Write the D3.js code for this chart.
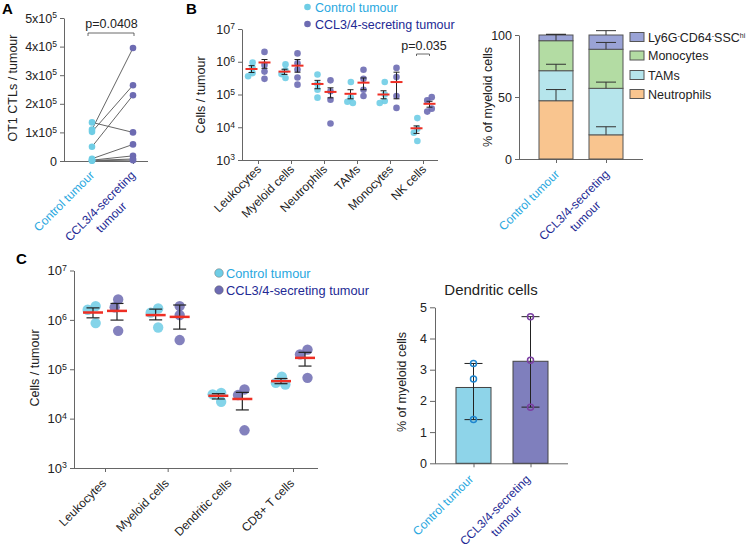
<!DOCTYPE html>
<html><head><meta charset="utf-8">
<script src="https://cdn.jsdelivr.net/npm/d3@7"></script>
<style>
body{margin:0;background:#fff;}
svg{display:block;font-family:"Liberation Sans",Arial,Helvetica,sans-serif;}
</style></head><body>
<svg id="c" width="751" height="550"></svg>
<script>
// ================= DATA =================
const groups = ["Control tumour", "CCL3/4-secreting tumour"];
const groupLines = [["Control tumour"], ["CCL3/4-secreting", "tumour"]];

// Panel A: paired OT1 CTL counts
const aControl = [1.35e5, 1.1e5, 1.02e5, 0.5e5, 0.08e5, 0.03e5, 0.02e5, 0.01e5];
const aCCL     = [1.0e5, 3.95e5, 2.65e5, 2.3e5, 0.58e5, 0.18e5, 0.07e5, 0.03e5];
const aTicks = [0, 1e5, 2e5, 3e5, 4e5, 5e5];
const aP = "p=0.0408";

// Panel B: cells / tumour
const bCats = ["Leukocytes", "Myeloid cells", "Neutrophils", "TAMs", "Monocytes", "NK cells"];
const bControlPts = [
  [9.5e5, 6.5e5, 4.5e5, 3.6e5],
  [8.3e5, 5.5e5, 4.2e5, 3.2e5],
  [4.1e5, 2.1e5, 1.4e5, 8.0e4],
  [2.4e5, 8.0e4, 6.0e4, 5.5e4],
  [2.4e5, 1.0e5, 6.3e4, 5.5e4],
  [1.9e4, 9.0e3, 6.8e3, 3.8e3]
];
const bCCLPts = [
  [2.0e6, 8.0e5, 5.0e5, 3.0e5],
  [1.8e6, 9.0e5, 5.8e5, 3.3e5, 2.0e5],
  [2.7e5, 1.26e5, 6.9e4, 1.3e4],
  [5.7e5, 3.0e5, 1.4e5, 9.0e4],
  [6.5e5, 3.4e5, 9.0e4, 3.9e4],
  [8.3e4, 6.6e4, 3.7e4, 3.0e4]
];
const bControlMean = [6.0e5, 5.0e5, 2.1e5, 1.05e5, 1.0e5, 9.3e3];
const bControlLo   = [4.7e5, 4.1e5, 1.5e5, 7.4e4, 7.4e4, 6.5e3];
const bControlHi   = [7.6e5, 5.9e5, 2.7e5, 1.4e5, 1.3e5, 1.1e4];
const bCCLMean     = [9.5e5, 7.6e5, 1.2e5, 2.3e5, 2.4e5, 5.2e4];
const bCCLLo       = [6.3e5, 4.8e5, 7.9e4, 1.4e5, 7.4e4, 4.1e4];
const bCCLHi       = [1.17e6, 1.17e6, 1.6e5, 3.2e5, 4.8e5, 6.2e4];
const bP = "p=0.035";
const bYTicks = [1e3, 1e4, 1e5, 1e6, 1e7];

// Panel B (right): % of myeloid cells, stacked
const stackKeys = ["Neutrophils", "TAMs", "Monocytes", "Ly6G"];
const stackControl = [47, 24.2, 24.2, 4.6];
const stackCCL     = [19.5, 37.5, 31.5, 11.5];
const stackControlErr = [9, 5.2, 5, 0.6];
const stackCCLErr     = [6.5, 5, 5.5, 3.5];
const stackTicks = [0, 50, 100];

// Panel C: cells / tumour
const cCats = ["Leukocytes", "Myeloid cells", "Dendritic cells", "CD8+ T cells"];
const cControlPts = [
  [1.9e6, 1.6e6, 8.6e5],
  [1.7e6, 1.4e6, 7.0e5],
  [3.3e4, 3.1e4, 2.2e4],
  [7.1e4, 5.3e4, 4.9e4]
];
const cCCLPts = [
  [2.6e6, 1.8e6, 6.0e5],
  [1.9e6, 1.25e6, 3.9e5],
  [3.9e4, 3.0e4, 5.8e3],
  [2.5e5, 2.0e5, 6.7e4]
];
const cControlMean = [1.41e6, 1.25e6, 2.9e4, 5.75e4];
const cControlLo   = [1.1e6, 1.0e6, 2.5e4, 5.1e4];
const cControlHi   = [1.75e6, 1.65e6, 3.2e4, 6.5e4];
const cCCLMean     = [1.52e6, 1.15e6, 2.5e4, 1.7e5];
const cCCLLo       = [9.9e5, 6.5e5, 1.5e4, 1.16e5];
const cCCLHi       = [2.15e6, 2.0e6, 3.4e4, 2.2e5];

// Panel C (right): dendritic cells % of myeloid cells
const dcControl = [3.2, 2.7, 1.4];
const dcCCL     = [4.7, 3.3, 1.8];
const dcMeans   = [2.43, 3.27];
const dcTicks   = [0, 1, 2, 3, 4, 5];

// ================= STYLE =================
const svg = d3.select("#c");
const axisColor = "#666";
const ctrlText = "#29a8e0", cclText = "#232a94";
const dotLight = "#6fcde5", dotDark = "#6d6bb2";
const red = "#ee2f24";
const stackColors = {Neutrophils: "#f9c58f", TAMs: "#b6e5ec", Monocytes: "#b3dca3", Ly6G: "#9aa3d6"};
const LBL = 12;

function styleAxis(g) {
  g.attr("font-family", null).attr("font-size", null);
  g.select(".domain").attr("stroke", axisColor);
  g.selectAll(".tick line").attr("stroke", axisColor);
  g.selectAll(".tick text").attr("fill", "#222").attr("font-size", 12.5);
}
function supLabels(g, baseFn, expFn) {
  g.selectAll(".tick text").each(function (d) {
    const t = d3.select(this).text(null);
    t.append("tspan").text(baseFn(d));
    const e = expFn(d);
    if (e !== null) t.append("tspan").attr("dy", "-0.5em").attr("font-size", "0.68em").text(e);
  });
}
function rotLabel(x, y, lines, color, size) {
  const fs = size || LBL;
  const t = svg.append("g").attr("transform", `translate(${x},${y}) rotate(-45)`);
  const first = t.append("text").attr("text-anchor", "end").attr("font-size", fs)
    .attr("fill", color).text(lines[0]);
  if (lines.length > 1) {
    const w = first.node().getComputedTextLength();
    t.append("text").attr("text-anchor", "middle").attr("x", -w / 2).attr("y", fs * 1.3)
      .attr("font-size", fs).attr("fill", color).text(lines[1]);
  }
}
function yLabel(cx, cy, text) {
  svg.append("text").attr("transform", `translate(${cx},${cy}) rotate(-90)`)
    .attr("text-anchor", "middle").attr("dy", "0.35em").attr("font-size", 12.5).attr("fill", "#222").text(text);
}
function panelTitle(x, y, t) {
  svg.append("text").attr("x", x).attr("y", y).attr("font-size", 15).attr("font-weight", "bold").text(t);
}
// deterministic beeswarm: greedy placement, then centred
function swarm(vals, yScale, minD) {
  const ord = vals.map((v, i) => ({v, i, y: yScale(v)})).sort((a, b) => a.y - b.y);
  const placed = [];
  ord.forEach(p => {
    let off = 0;
    for (let k = 0; k < 200; k++) {
      const cand = (k % 2 === 0 ? 1 : -1) * Math.ceil(k / 2) * 0.5;
      const ok = placed.every(q => Math.hypot(q.x - cand, q.y - p.y) >= minD);
      if (ok) { off = cand; break; }
    }
    placed.push({x: off, y: p.y, v: p.v});
  });
  const m = d3.mean(placed, d => d.x);
  return placed.map(d => ({x: d.x - m, y: d.y, v: d.v}));
}
function errBar(g, x, yLo, yHi, cap, sw) {
  g.append("line").attr("x1", x).attr("x2", x).attr("y1", yLo).attr("y2", yHi).attr("stroke", "#222").attr("stroke-width", sw);
  [yLo, yHi].forEach(yy => g.append("line").attr("x1", x - cap / 2).attr("x2", x + cap / 2)
    .attr("y1", yy).attr("y2", yy).attr("stroke", "#222").attr("stroke-width", sw));
}

// ================= PANEL A =================
panelTitle(2, 14, "A");
{
  const y = d3.scaleLinear().domain([0, 5e5]).range([161, 18]);
  const x = d3.scalePoint().domain(groups).range([92, 133]);
  const gy = svg.append("g").attr("transform", "translate(64,0)")
    .call(d3.axisLeft(y).tickValues(aTicks).tickSize(4).tickSizeOuter(0));
  styleAxis(gy);
  supLabels(gy, d => d === 0 ? "0" : (d / 1e5) + "x10", d => d === 0 ? null : "5");
  const gx = svg.append("g").attr("transform", "translate(0,161)")
    .call(d3.axisBottom(x).tickSize(3).tickSizeOuter(0).tickFormat(""));
  styleAxis(gx);
  gx.select(".domain").attr("d", "M64,0.5H148");
  aControl.forEach((v, i) => {
    svg.append("line").attr("x1", x(groups[0])).attr("x2", x(groups[1]))
      .attr("y1", y(v)).attr("y2", y(aCCL[i])).attr("stroke", "#666").attr("stroke-width", 1);
  });
  svg.selectAll(".aC").data(aControl).join("circle").attr("cx", x(groups[0])).attr("cy", d => y(d))
    .attr("r", 3.3).attr("fill", dotLight);
  svg.selectAll(".aT").data(aCCL).join("circle").attr("cx", x(groups[1])).attr("cy", d => y(d))
    .attr("r", 3.3).attr("fill", dotDark);
  svg.append("path").attr("d", `M${x(groups[0])-4},36V33H${x(groups[1])+1}V36`).attr("fill", "none")
    .attr("stroke", "#444").attr("stroke-width", 0.8);
  svg.append("text").attr("x", (x(groups[0]) + x(groups[1])) / 2 - 1).attr("y", 28).attr("text-anchor", "middle")
    .attr("font-size", 12.5).attr("fill", "#222").text(aP);
  yLabel(13, 88, "OT1 CTLs / tumour");
  rotLabel(x(groups[0]) + 3, 176, groupLines[0], ctrlText);
  rotLabel(x(groups[1]) + 3, 176, groupLines[1], cclText);
}

// ================= PANEL B scatter =================
panelTitle(186, 14, "B");
{
  const y = d3.scaleLog().domain([1e3, 1e7]).range([160, 29]);
  const x = d3.scalePoint().domain(bCats).range([258, 423]);
  const gy = svg.append("g").attr("transform", "translate(242,0)")
    .call(d3.axisLeft(y).tickValues(bYTicks).tickSize(4).tickSizeOuter(0));
  styleAxis(gy);
  supLabels(gy, () => "10", d => String(Math.round(Math.log10(d))));
  const gx = svg.append("g").attr("transform", "translate(0,160)")
    .call(d3.axisBottom(x).tickSize(4).tickSizeOuter(0).tickFormat(""));
  styleAxis(gx);
  gx.select(".domain").attr("d", "M242,0.5H438");
  const off = 6.5;
  const sets = [
    {pts: bControlPts, mean: bControlMean, lo: bControlLo, hi: bControlHi, dx: -off, col: dotLight},
    {pts: bCCLPts, mean: bCCLMean, lo: bCCLLo, hi: bCCLHi, dx: off, col: dotDark}
  ];
  sets.forEach(s => {
    bCats.forEach((c, i) => {
      const cx = x(c) + s.dx;
      const sw = swarm(s.pts[i], y, 5.2);
      svg.append("g").selectAll("circle").data(sw).join("circle")
        .attr("cx", d => cx + d.x).attr("cy", d => d.y).attr("r", 3.3)
        .attr("fill", s.col).attr("fill-opacity", 0.9);
    });
  });
  sets.forEach(s => {
    bCats.forEach((c, i) => {
      const cx = x(c) + s.dx;
      const g = svg.append("g");
      errBar(g, cx, y(s.lo[i]), y(s.hi[i]), 6, 1);
      g.append("line").attr("x1", cx - 6).attr("x2", cx + 6).attr("y1", y(s.mean[i])).attr("y2", y(s.mean[i]))
        .attr("stroke", red).attr("stroke-width", 2);
    });
  });
  const nk = x("NK cells");
  svg.append("path").attr("d", `M${nk-off},56V54H${nk+off}V56`).attr("fill", "none").attr("stroke", "#444").attr("stroke-width", 0.8);
  svg.append("text").attr("x", nk + 1).attr("y", 50).attr("text-anchor", "middle").attr("font-size", 12.5).attr("fill", "#222").text(bP);
  [[groups[0], dotLight, ctrlText, 7], [groups[1], dotDark, cclText, 24]].forEach(([t, c, tc, yy]) => {
    svg.append("circle").attr("cx", 307.5).attr("cy", yy).attr("r", 3.3).attr("fill", c);
    svg.append("text").attr("x", 315).attr("y", yy).attr("dy", "0.36em").attr("font-size", 12.5).attr("fill", tc).text(t);
  });
  yLabel(201, 95, "Cells / tumour");
  bCats.forEach(c => rotLabel(x(c) + 4, 170, [c], "#222"));
}

// ================= PANEL B stacked =================
{
  const y = d3.scaleLinear().domain([0, 100]).range([159, 35]);
  const x = d3.scalePoint().domain(groups).range([556, 606]);
  const bw = 34;
  const gy = svg.append("g").attr("transform", "translate(519,0)")
    .call(d3.axisLeft(y).tickValues(stackTicks).tickSize(4).tickSizeOuter(0));
  styleAxis(gy);
  const gx = svg.append("g").attr("transform", "translate(0,159)")
    .call(d3.axisBottom(x).tickSize(4).tickSizeOuter(0).tickFormat(""));
  styleAxis(gx);
  gx.select(".domain").attr("d", "M519,0.5H643");
  const rows = groups.map((gname, gi) => {
    const o = {group: gname};
    stackKeys.forEach((k, ki) => o[k] = (gi === 0 ? stackControl : stackCCL)[ki]);
    return o;
  });
  const series = d3.stack().keys(stackKeys)(rows);
  series.forEach((s, ki) => {
    svg.append("g").selectAll("rect").data(s).join("rect")
      .attr("x", d => x(d.data.group) - bw / 2).attr("width", bw)
      .attr("y", d => y(d[1])).attr("height", d => y(d[0]) - y(d[1]))
      .attr("fill", stackColors[stackKeys[ki]]).attr("stroke", "#555").attr("stroke-width", 1);
  });
  series.forEach((s, ki) => {
    s.forEach((d, gi) => {
      const e = (gi === 0 ? stackControlErr : stackCCLErr)[ki];
      const cx = x(d.data.group);
      svg.append("line").attr("x1", cx).attr("x2", cx).attr("y1", y(d[1])).attr("y2", y(d[1] + e)).attr("stroke", "#333").attr("stroke-width", 1);
      svg.append("line").attr("x1", cx - 10).attr("x2", cx + 10).attr("y1", y(d[1] + e)).attr("y2", y(d[1] + e)).attr("stroke", "#333").attr("stroke-width", 1);
    });
  });
  const legendY = {Ly6G: 37, Monocytes: 55.5, TAMs: 75, Neutrophils: 94};
  stackKeys.forEach(k => {
    svg.append("rect").attr("x", 630).attr("y", legendY[k] - 4.5).attr("width", 14).attr("height", 9)
      .attr("fill", stackColors[k]).attr("stroke", "#555").attr("stroke-width", 1);
    const t = svg.append("text").attr("x", 648).attr("y", legendY[k]).attr("dy", "0.36em").attr("font-size", 12.5).attr("fill", "#222");
    if (k === "Ly6G") {
      t.append("tspan").text("Ly6G");
      t.append("tspan").attr("dy", -4).attr("font-size", 7).text("-");
      t.append("tspan").attr("dy", 4).text("CD64");
      t.append("tspan").attr("dy", -4).attr("font-size", 7).text("-");
      t.append("tspan").attr("dy", 4).text("SSC");
      t.append("tspan").attr("dy", -4).attr("font-size", 7).text("hi");
    } else t.text(k);
  });
  yLabel(488, 97, "% of myeloid cells");
  rotLabel(x(groups[0]) + 4, 175, groupLines[0], ctrlText);
  rotLabel(x(groups[1]) + 4, 175, groupLines[1], cclText);
}

// ================= PANEL C scatter =================
panelTitle(16, 264, "C");
{
  const y = d3.scaleLog().domain([1e3, 1e7]).range([468, 270.5]);
  const x = d3.scalePoint().domain(cCats).range([105, 293]);
  const gy = svg.append("g").attr("transform", "translate(74,0)")
    .call(d3.axisLeft(y).tickValues(bYTicks).tickSize(4).tickSizeOuter(0));
  styleAxis(gy);
  gy.selectAll(".tick text").attr("font-size", 13);
  supLabels(gy, () => "10", d => String(Math.round(Math.log10(d))));
  const gx = svg.append("g").attr("transform", "translate(0,468)")
    .call(d3.axisBottom(x).tickSize(4).tickSizeOuter(0).tickFormat(""));
  styleAxis(gx);
  gx.select(".domain").attr("d", "M74,0.5H318");
  const off = 12;
  const sets = [
    {pts: cControlPts, mean: cControlMean, lo: cControlLo, hi: cControlHi, dx: -off, col: dotLight},
    {pts: cCCLPts, mean: cCCLMean, lo: cCCLLo, hi: cCCLHi, dx: off, col: dotDark}
  ];
  sets.forEach(s => {
    cCats.forEach((c, i) => {
      const cx = x(c) + s.dx;
      const sw = swarm(s.pts[i], y, 8.5);
      svg.append("g").selectAll("circle").data(sw).join("circle")
        .attr("cx", d => cx + d.x).attr("cy", d => d.y).attr("r", 5.2)
        .attr("fill", s.col).attr("fill-opacity", 0.85);
    });
  });
  sets.forEach(s => {
    cCats.forEach((c, i) => {
      const cx = x(c) + s.dx;
      const g = svg.append("g");
      errBar(g, cx, y(s.lo[i]), y(s.hi[i]), 13, 1.2);
      g.append("line").attr("x1", cx - 10).attr("x2", cx + 10).attr("y1", y(s.mean[i])).attr("y2", y(s.mean[i]))
        .attr("stroke", red).attr("stroke-width", 2.5);
    });
  });
  [[groups[0], dotLight, ctrlText, 273], [groups[1], dotDark, cclText, 290]].forEach(([t, c, tc, yy]) => {
    svg.append("circle").attr("cx", 219).attr("cy", yy).attr("r", 4.3).attr("fill", c).attr("stroke", "#555").attr("stroke-width", 0.4);
    svg.append("text").attr("x", 226).attr("y", yy).attr("dy", "0.36em").attr("font-size", 12.8).attr("fill", tc).text(t);
  });
  yLabel(35, 368, "Cells / tumour");
  cCats.forEach(c => rotLabel(x(c) + 2, 484, [c], "#222"));
}

// ================= PANEL C bar =================
{
  const y = d3.scaleLinear().domain([0, 5]).range([463.3, 307.3]);
  const x = d3.scalePoint().domain(groups).range([473.5, 530.5]);
  const bw = 35;
  const gy = svg.append("g").attr("transform", "translate(435,0)")
    .call(d3.axisLeft(y).tickValues(dcTicks).tickFormat(d3.format("d")).tickSize(5).tickSizeOuter(0));
  styleAxis(gy);
  const gx = svg.append("g").attr("transform", "translate(0,463.3)")
    .call(d3.axisBottom(x).tickSize(4).tickSizeOuter(0).tickFormat(""));
  styleAxis(gx);
  gx.select(".domain").attr("d", "M435,0.5H568");
  const fills = ["#8ed4e9", "#7f7fbd"];
  const strokes = ["#1f86cf", "#7b3fa3"];
  const pts = [dcControl, dcCCL];
  svg.selectAll(".dcbar").data(groups).join("rect")
    .attr("x", d => x(d) - bw / 2).attr("width", bw)
    .attr("y", (d, i) => y(dcMeans[i])).attr("height", (d, i) => y(0) - y(dcMeans[i]))
    .attr("fill", (d, i) => fills[i]).attr("stroke", "#444").attr("stroke-width", 1);
  groups.forEach((gname, i) => {
    const cx = x(gname);
    const g = svg.append("g");
    errBar(g, cx, y(d3.min(pts[i])), y(d3.max(pts[i])), 18, 1);
    g.selectAll("circle").data(pts[i]).join("circle").attr("cx", cx).attr("cy", d => y(d)).attr("r", 3)
      .attr("fill", "none").attr("stroke", strokes[i]).attr("stroke-width", 1.5);
  });
  svg.append("text").attr("x", 491).attr("y", 295).attr("text-anchor", "middle").attr("font-size", 15).attr("fill", "#222").text("Dendritic cells");
  yLabel(402, 382, "% of myeloid cells");
  rotLabel(x(groups[0]) + 0.5, 480, groupLines[0], ctrlText);
  rotLabel(x(groups[1]) + 0.5, 480, groupLines[1], cclText);
}
</script>
</body></html>
